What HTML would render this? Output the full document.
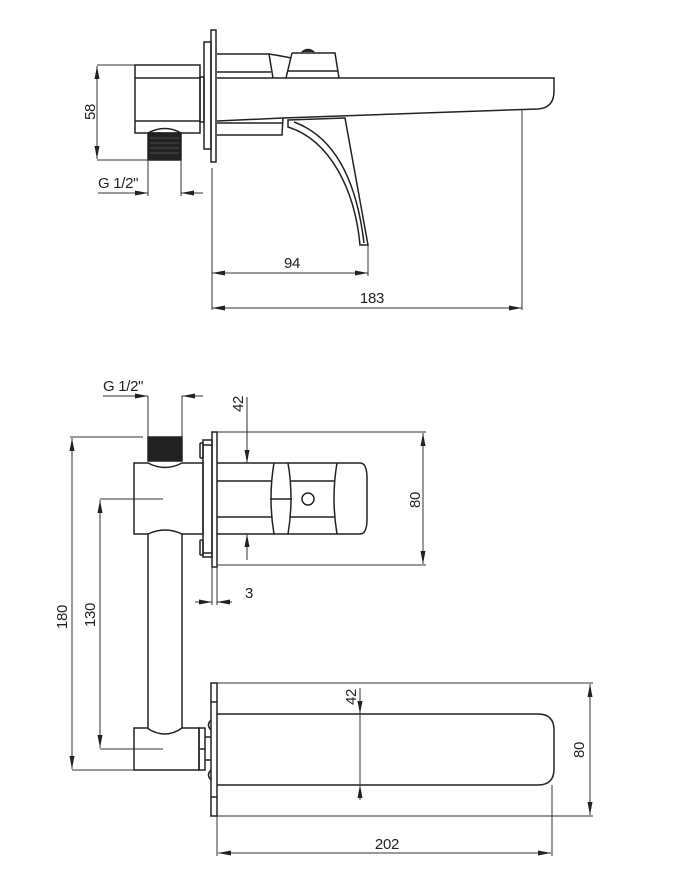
<!DOCTYPE html>
<html><head><meta charset="utf-8"><style>
html,body{margin:0;padding:0;background:#fff;}
svg{display:block;}
text{font-family:"Liberation Sans",sans-serif;font-size:15px;fill:#222;letter-spacing:-0.3px;}
</style></head><body>
<svg width="688" height="889" viewBox="0 0 688 889" xmlns="http://www.w3.org/2000/svg">
<defs>
<marker id="a" markerWidth="14" markerHeight="8" refX="13" refY="4" orient="auto-start-reverse" markerUnits="userSpaceOnUse">
<path d="M0,1.5 L13,4 L0,6.5 Z" fill="#222"/></marker>
</defs>
<g fill="none" stroke="#222" stroke-width="1.5">
<!-- TOP VIEW -->
<rect x="135" y="65" width="65" height="68"/>
<line x1="135" y1="78" x2="200" y2="78"/>
<line x1="135" y1="121" x2="200" y2="121"/>
<rect x="200" y="77" width="4" height="45"/>
<rect x="204" y="42" width="7" height="107"/>
<rect x="211" y="30" width="5" height="132"/>
<path d="M217,54 L269,54 L273,78 M217,72 L271,72"/>
<path d="M269,54 Q282,56 291,58"/>
<path d="M292,53 L335,53 L339,78 M292,53 L286,78 M288,71 L338,71"/>
<path d="M302,52 Q308,47 314,52" fill="#222"/>
<path d="M217,78 L554,78 L554,91 Q554,108 538,109 L283,118 L217,121"/>
<path d="M217,135 L282,135 L283,118 M217,123 L282,123"/>
<path d="M288,120 L345,118 L368,245 L360,245 C355,190 330,140 288,127 Z"/>
<path d="M294,122 C332,136 356,176 364,243"/>
<rect x="148" y="133" width="33" height="27" fill="#222"/>
<path d="M148,133 Q165,124 181,133"/>
</g>
<g stroke="#777" stroke-width="0.6">
<line x1="150" y1="138" x2="179" y2="138"/><line x1="150" y1="143" x2="179" y2="143"/><line x1="150" y1="148" x2="179" y2="148"/><line x1="150" y1="153" x2="179" y2="153"/>
</g>
<g fill="none" stroke="#333" stroke-width="1">
<line x1="97" y1="65" x2="135" y2="65"/><line x1="97" y1="160" x2="148" y2="160"/>
<line x1="97" y1="66" x2="97" y2="159" marker-start="url(#a)" marker-end="url(#a)"/>
<line x1="148" y1="160" x2="148" y2="196"/><line x1="181" y1="160" x2="181" y2="196"/>
<line x1="98" y1="193" x2="148" y2="193" marker-end="url(#a)"/>
<line x1="203" y1="193" x2="181" y2="193" marker-end="url(#a)"/>
<line x1="212" y1="168" x2="212" y2="310"/>
<line x1="368" y1="245" x2="368" y2="276"/>
<line x1="212" y1="273" x2="368" y2="273" marker-start="url(#a)" marker-end="url(#a)"/>
<line x1="522" y1="109" x2="522" y2="310"/>
<line x1="212" y1="308" x2="522" y2="308" marker-start="url(#a)" marker-end="url(#a)"/>
</g>
<text x="95" y="112" transform="rotate(-90 95 112)" text-anchor="middle">58</text>
<text x="98" y="188">G 1/2"</text>
<text x="292" y="268" text-anchor="middle">94</text>
<text x="372" y="303" text-anchor="middle">183</text>

<!-- MIDDLE VIEW -->
<g fill="none" stroke="#222" stroke-width="1.5">
<rect x="148" y="437" width="34" height="24" fill="#222"/>
<path d="M134,463 L148,463 Q165,472 182,463 L203,463 L203,534 L182,534 Q165,526 148,534 L134,534 Z"/>
<line x1="148" y1="534" x2="148" y2="728"/>
<line x1="182" y1="534" x2="182" y2="728"/>
<rect x="203" y="440" width="9" height="117"/>
<rect x="212" y="432" width="5" height="135"/>
<rect x="200" y="443" width="3" height="15" rx="1"/>
<rect x="200" y="540" width="3" height="15" rx="1"/>
<line x1="203" y1="445" x2="212" y2="445"/><line x1="203" y1="553" x2="212" y2="553"/>
<path d="M217,463 L360,463 Q367,463 367,478 L367,519 Q367,534 360,534 L217,534"/>
<line x1="217" y1="481" x2="272" y2="481"/><line x1="217" y1="517" x2="272" y2="517"/>
<path d="M274,463 Q268,498 274,534 M288,463 Q294,498 288,534 M270,499 L292,499"/>
<line x1="290" y1="481" x2="335" y2="481"/><line x1="290" y1="517" x2="335" y2="517"/>
<circle cx="308" cy="499" r="6"/>
<path d="M337,463 Q331,498 337,534"/>
</g>
<g fill="none" stroke="#333" stroke-width="1">
<line x1="148" y1="396" x2="148" y2="437"/><line x1="182" y1="396" x2="182" y2="437"/>
<line x1="103" y1="396" x2="148" y2="396" marker-end="url(#a)"/>
<line x1="203" y1="396" x2="182" y2="396" marker-end="url(#a)"/>
<line x1="70" y1="437" x2="143" y2="437"/>
<line x1="100" y1="499" x2="163" y2="499"/>
<line x1="247" y1="397" x2="247" y2="463" marker-end="url(#a)"/>
<line x1="247" y1="560" x2="247" y2="534" marker-end="url(#a)"/>
<line x1="217" y1="432" x2="426" y2="432"/><line x1="217" y1="565" x2="426" y2="565"/>
<line x1="423" y1="433" x2="423" y2="564" marker-start="url(#a)" marker-end="url(#a)"/>
<line x1="212" y1="567" x2="212" y2="605"/><line x1="217" y1="567" x2="217" y2="605"/>
<line x1="195" y1="602" x2="212" y2="602" marker-end="url(#a)"/>
<line x1="232" y1="602" x2="217" y2="602" marker-end="url(#a)"/>
<line x1="72" y1="438" x2="72" y2="769" marker-start="url(#a)" marker-end="url(#a)"/>
<line x1="100" y1="500" x2="100" y2="748" marker-start="url(#a)" marker-end="url(#a)"/>
</g>
<text x="103" y="391">G 1/2"</text>
<text x="243" y="404" transform="rotate(-90 243 404)" text-anchor="middle">42</text>
<text x="420" y="500" transform="rotate(-90 420 500)" text-anchor="middle">80</text>
<text x="249" y="598" text-anchor="middle">3</text>
<text x="67" y="617" transform="rotate(-90 67 617)" text-anchor="middle">180</text>
<text x="95" y="615" transform="rotate(-90 95 615)" text-anchor="middle">130</text>

<!-- BOTTOM VIEW -->
<g fill="none" stroke="#222" stroke-width="1.5">
<path d="M134,728 L147,728 Q165,740 182,728 L199,728 L199,770 L134,770 Z"/>
<rect x="199" y="728" width="6" height="42"/>
<line x1="199" y1="749" x2="205" y2="749"/>
<line x1="205" y1="737" x2="211" y2="737"/><line x1="205" y1="760" x2="211" y2="760"/>
<rect x="211" y="683" width="6" height="133"/>
<line x1="211" y1="702" x2="217" y2="702"/><line x1="211" y1="797" x2="217" y2="797"/>
<path d="M211,720 Q206,725 211,730 M211,770 Q206,775 211,780"/>
<path d="M217,714 L538,714 Q554,714 554,730 L554,769 Q554,785 538,785 L217,785"/>
</g>
<g fill="none" stroke="#333" stroke-width="1">
<line x1="100" y1="749" x2="163" y2="749"/>
<line x1="72" y1="770" x2="134" y2="770"/>
<line x1="217" y1="683" x2="593" y2="683"/><line x1="217" y1="816" x2="593" y2="816"/>
<line x1="590" y1="684" x2="590" y2="815" marker-start="url(#a)" marker-end="url(#a)"/>
<line x1="360" y1="688" x2="360" y2="714" marker-end="url(#a)"/>
<line x1="360" y1="800" x2="360" y2="785" marker-end="url(#a)"/>
<line x1="360" y1="714" x2="360" y2="785"/>
<line x1="217" y1="816" x2="217" y2="856"/><line x1="552" y1="785" x2="552" y2="856"/>
<line x1="218" y1="853" x2="551" y2="853" marker-start="url(#a)" marker-end="url(#a)"/>
</g>
<text x="356" y="697" transform="rotate(-90 356 697)" text-anchor="middle">42</text>
<text x="584" y="750" transform="rotate(-90 584 750)" text-anchor="middle">80</text>
<text x="387" y="849" text-anchor="middle">202</text>
</svg>
</body></html>
